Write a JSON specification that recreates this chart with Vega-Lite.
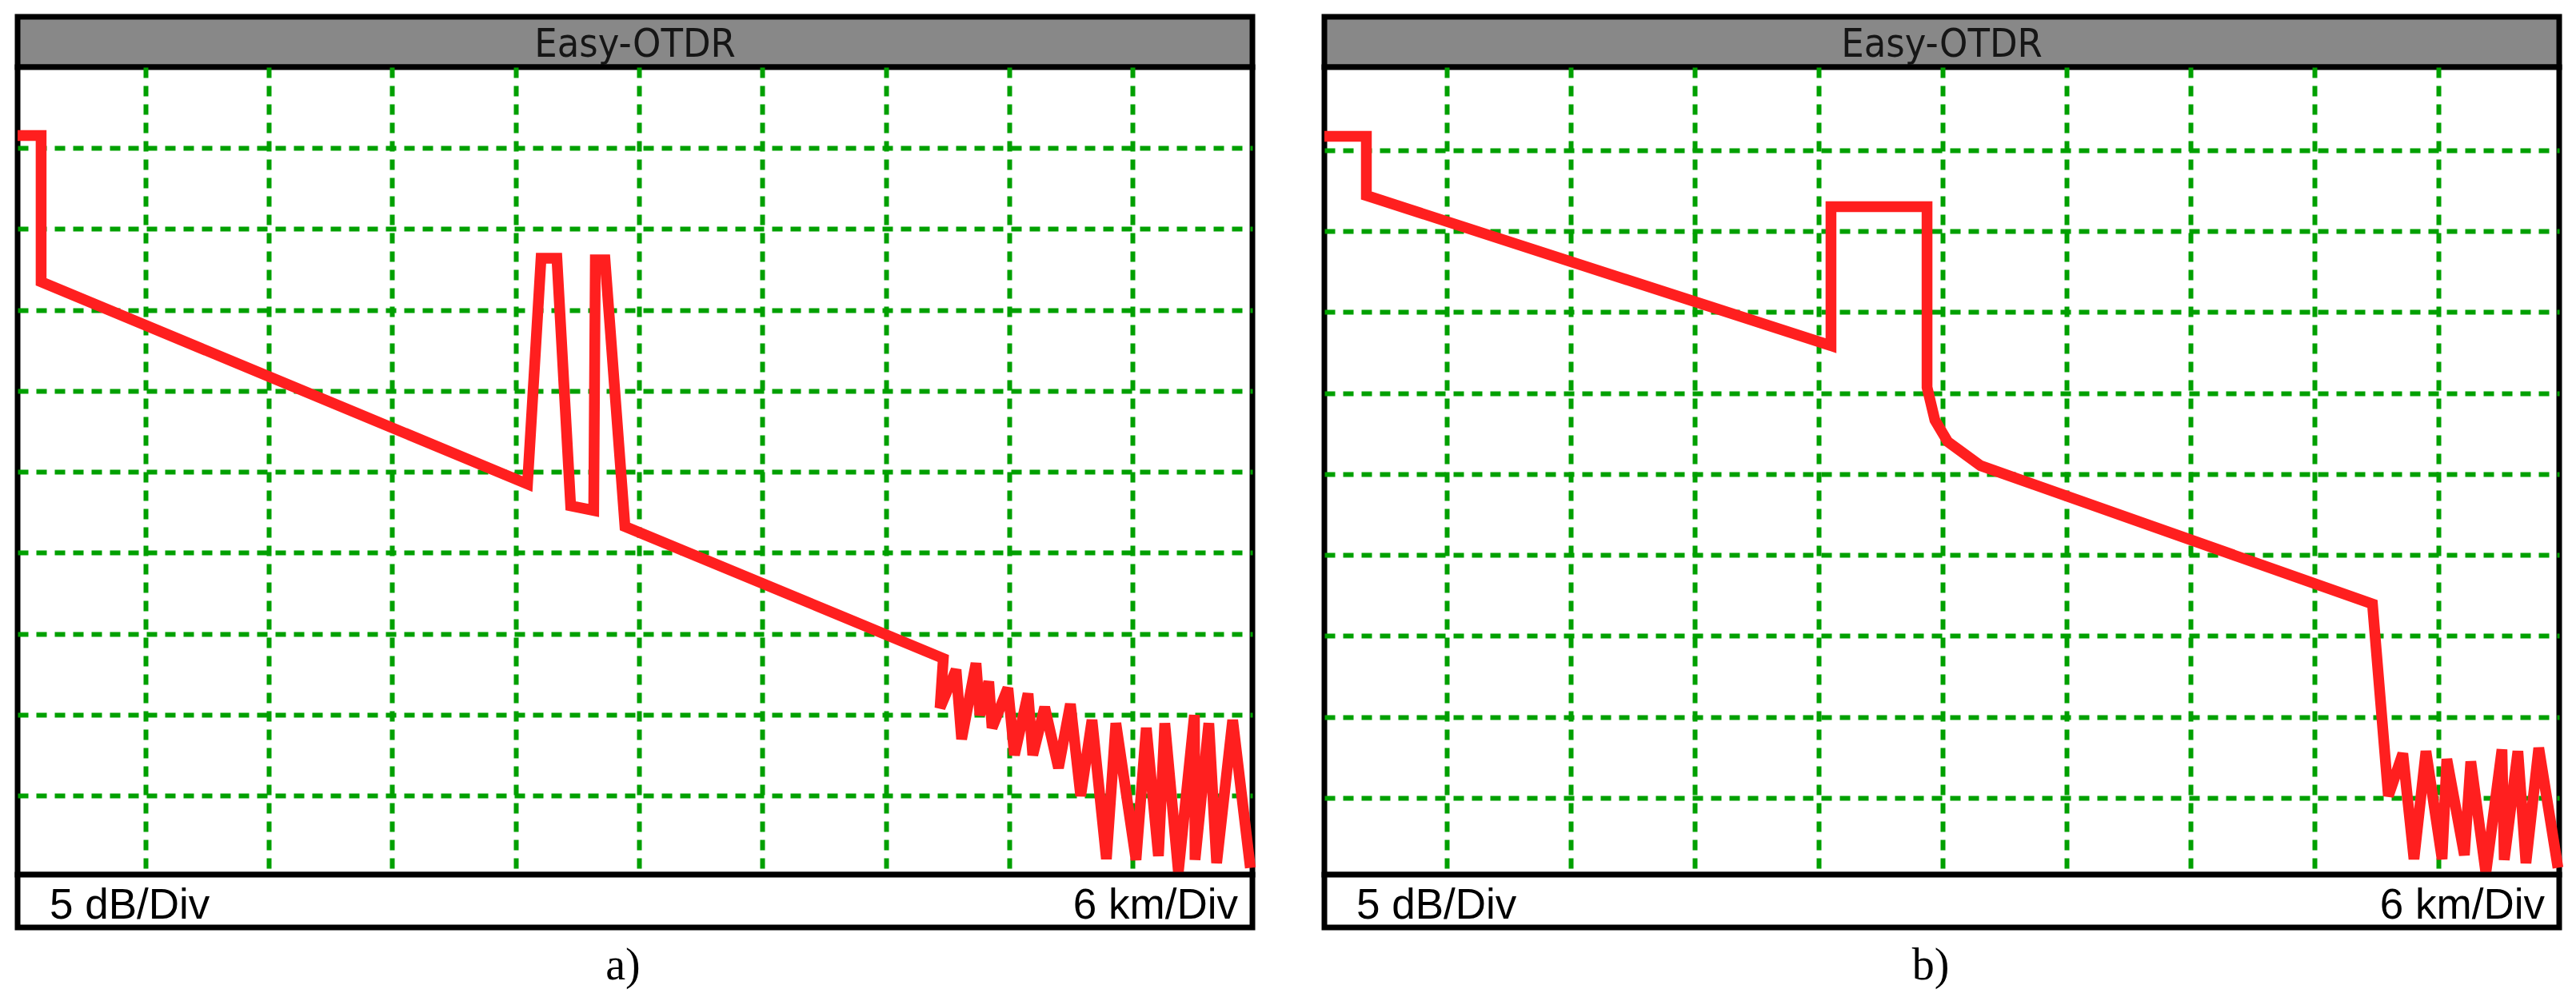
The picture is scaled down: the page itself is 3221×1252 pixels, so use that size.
{
  "$schema": "https://vega.github.io/schema/vega-lite/v6.json",
  "padding": {"left": -9, "top": 17, "right": 0, "bottom": 0},
  "background": "white",
  "config": {
    "view": {"stroke": "black", "strokeWidth": 7},
    "axis": {"minExtent": 0, "maxExtent": 0, "offset": 0}
  },
  "datasets": {
    "traceA": [
      {"i": 0, "km": -0.214, "dB": 45.78},
      {"i": 1, "km": 0.93, "dB": 45.78},
      {"i": 2, "km": 0.93, "dB": 36.74},
      {"i": 3, "km": 24.58, "dB": 24.25},
      {"i": 4, "km": 25.24, "dB": 38.2},
      {"i": 5, "km": 26.01, "dB": 38.2},
      {"i": 6, "km": 26.68, "dB": 22.91},
      {"i": 7, "km": 27.80, "dB": 22.62},
      {"i": 8, "km": 27.88, "dB": 38.1},
      {"i": 9, "km": 28.35, "dB": 38.1},
      {"i": 10, "km": 29.32, "dB": 21.63},
      {"i": 11, "km": 44.80, "dB": 13.48},
      {"i": 12, "km": 44.64, "dB": 10.42},
      {"i": 13, "km": 45.42, "dB": 12.79},
      {"i": 14, "km": 45.69, "dB": 8.49},
      {"i": 15, "km": 46.39, "dB": 13.19},
      {"i": 16, "km": 46.58, "dB": 9.98},
      {"i": 17, "km": 47.01, "dB": 12.05},
      {"i": 18, "km": 47.17, "dB": 9.19},
      {"i": 19, "km": 47.94, "dB": 11.65},
      {"i": 20, "km": 48.26, "dB": 7.51},
      {"i": 21, "km": 48.92, "dB": 11.31},
      {"i": 22, "km": 49.15, "dB": 7.51},
      {"i": 23, "km": 49.73, "dB": 10.47},
      {"i": 24, "km": 50.40, "dB": 6.72},
      {"i": 25, "km": 50.98, "dB": 10.67},
      {"i": 26, "km": 51.48, "dB": 4.99},
      {"i": 27, "km": 52.03, "dB": 9.68},
      {"i": 28, "km": 52.73, "dB": 1.09},
      {"i": 29, "km": 53.19, "dB": 9.48},
      {"i": 30, "km": 54.17, "dB": 1.04},
      {"i": 31, "km": 54.67, "dB": 9.19},
      {"i": 32, "km": 55.26, "dB": 1.28},
      {"i": 33, "km": 55.57, "dB": 9.48},
      {"i": 34, "km": 56.23, "dB": 0.30},
      {"i": 35, "km": 57.01, "dB": 9.98},
      {"i": 36, "km": 57.04, "dB": 1.04},
      {"i": 37, "km": 57.71, "dB": 9.48},
      {"i": 38, "km": 58.09, "dB": 0.84},
      {"i": 39, "km": 58.87, "dB": 9.68},
      {"i": 40, "km": 59.73, "dB": 0.54}
    ],
    "traceB": [
      {"i": 0, "km": 0.058, "dB": 45.87},
      {"i": 1, "km": 2.09, "dB": 45.87},
      {"i": 2, "km": 2.09, "dB": 42.21},
      {"i": 3, "km": 24.58, "dB": 32.93},
      {"i": 4, "km": 24.58, "dB": 41.52},
      {"i": 5, "km": 29.23, "dB": 41.52},
      {"i": 6, "km": 29.23, "dB": 30.36},
      {"i": 7, "km": 29.61, "dB": 28.33},
      {"i": 8, "km": 30.23, "dB": 27.00},
      {"i": 9, "km": 31.82, "dB": 25.52},
      {"i": 10, "km": 50.79, "dB": 16.97},
      {"i": 11, "km": 51.56, "dB": 5.11},
      {"i": 12, "km": 52.26, "dB": 7.73},
      {"i": 13, "km": 52.80, "dB": 1.21},
      {"i": 14, "km": 53.38, "dB": 7.88},
      {"i": 15, "km": 54.16, "dB": 1.21},
      {"i": 16, "km": 54.39, "dB": 7.39},
      {"i": 17, "km": 55.24, "dB": 1.46},
      {"i": 18, "km": 55.55, "dB": 7.24},
      {"i": 19, "km": 56.28, "dB": 0.35},
      {"i": 20, "km": 57.06, "dB": 7.98},
      {"i": 21, "km": 57.17, "dB": 1.16},
      {"i": 22, "km": 57.83, "dB": 7.88},
      {"i": 23, "km": 58.22, "dB": 0.96},
      {"i": 24, "km": 58.84, "dB": 8.08},
      {"i": 25, "km": 59.77, "dB": 0.67}
    ],
    "header": [{"t": "Easy-OTDR"}],
    "footer": [{"t": "5 dB/Div", "p": 0}, {"t": "6 km/Div", "p": 1}]
  },
  "hconcat": [
    {
      "vconcat": [
        {
          "width": 1544, "height": 63,
          "view": {"fill": "#888888", "stroke": "black", "strokeWidth": 7},
          "data": {"name": "header"},
          "mark": {"type": "text", "font": "DejaVu Sans Condensed, Liberation Sans", "fontSize": 50, "baseline": "alphabetic", "dy": 18, "color": "#161616"},
          "encoding": {"text": {"field": "t"}}
        },
        {
          "width": 1544, "height": 1010,
          "view": {"fill": "white", "stroke": "black", "strokeWidth": 7},
          "data": {"name": "traceA"},
          "mark": {"type": "line", "color": "#ff1f1f", "strokeWidth": 13.5},
          "encoding": {
            "x": {"field": "km", "type": "quantitative", "scale": {"domain": [-0.214, 59.83], "nice": false, "zero": false},
                  "axis": {"values": [6, 12, 18, 24, 30, 36, 42, 48, 54], "grid": true, "gridColor": "#00a000", "gridWidth": 6, "gridDash": [13, 10], "gridOpacity": 1, "labels": false, "ticks": false, "domain": false, "title": null}},
            "y": {"field": "dB", "type": "quantitative", "scale": {"domain": [0.123, 50.0], "nice": false, "zero": false},
                  "axis": {"values": [5, 10, 15, 20, 25, 30, 35, 40, 45], "grid": true, "gridColor": "#00a000", "gridWidth": 6, "gridDash": [13, 10], "gridOpacity": 1, "labels": false, "ticks": false, "domain": false, "title": null}},
            "order": {"field": "i"}
          }
        },
        {
          "width": 1544, "height": 66,
          "view": {"fill": "white", "stroke": "black", "strokeWidth": 7},
          "data": {"name": "footer"},
          "layer": [
            {
              "transform": [{"filter": "datum.p == 0"}],
              "mark": {"type": "text", "align": "left", "dx": 40, "dy": 22, "baseline": "alphabetic", "font": "Liberation Sans", "fontSize": 53, "color": "black"},
              "encoding": {"x": {"field": "p", "type": "quantitative", "scale": {"domain": [0, 1]}, "axis": null}, "text": {"field": "t"}}
            },
            {
              "transform": [{"filter": "datum.p == 1"}],
              "mark": {"type": "text", "align": "right", "dx": -18, "dy": 22, "baseline": "alphabetic", "font": "Liberation Sans", "fontSize": 53, "color": "black"},
              "encoding": {"x": {"field": "p", "type": "quantitative", "scale": {"domain": [0, 1]}, "axis": null}, "text": {"field": "t"}}
            }
          ]
        },
        {
          "width": 1544, "height": 85,
          "view": {"fill": null, "stroke": null},
          "data": {"values": [{"t": "a)"}]},
          "mark": {"type": "text", "font": "Liberation Serif", "fontSize": 56, "baseline": "alphabetic", "dx": -15, "dy": 22, "color": "black"},
          "encoding": {"text": {"field": "t"}}
        }
      ],
      "spacing": 0,
      "bounds": "flush",
      "resolve": {"scale": {"x": "independent", "y": "independent"}}
    },
    {
      "vconcat": [
        {
          "width": 1544, "height": 63,
          "view": {"fill": "#888888", "stroke": "black", "strokeWidth": 7},
          "data": {"name": "header"},
          "mark": {"type": "text", "font": "DejaVu Sans Condensed, Liberation Sans", "fontSize": 50, "baseline": "alphabetic", "dy": 18, "color": "#161616"},
          "encoding": {"text": {"field": "t"}}
        },
        {
          "width": 1544, "height": 1010,
          "view": {"fill": "white", "stroke": "black", "strokeWidth": 7},
          "data": {"name": "traceB"},
          "mark": {"type": "line", "color": "#ff1f1f", "strokeWidth": 13.5},
          "encoding": {
            "x": {"field": "km", "type": "quantitative", "scale": {"domain": [0.058, 59.83], "nice": false, "zero": false},
                  "axis": {"values": [6, 12, 18, 24, 30, 36, 42, 48, 54], "grid": true, "gridColor": "#00a000", "gridWidth": 6, "gridDash": [13, 10], "gridOpacity": 1, "labels": false, "ticks": false, "domain": false, "title": null}},
            "y": {"field": "dB", "type": "quantitative", "scale": {"domain": [0.247, 50.14], "nice": false, "zero": false},
                  "axis": {"values": [5, 10, 15, 20, 25, 30, 35, 40, 45], "grid": true, "gridColor": "#00a000", "gridWidth": 6, "gridDash": [13, 10], "gridOpacity": 1, "labels": false, "ticks": false, "domain": false, "title": null}},
            "order": {"field": "i"}
          }
        },
        {
          "width": 1544, "height": 66,
          "view": {"fill": "white", "stroke": "black", "strokeWidth": 7},
          "data": {"name": "footer"},
          "layer": [
            {
              "transform": [{"filter": "datum.p == 0"}],
              "mark": {"type": "text", "align": "left", "dx": 40, "dy": 22, "baseline": "alphabetic", "font": "Liberation Sans", "fontSize": 53, "color": "black"},
              "encoding": {"x": {"field": "p", "type": "quantitative", "scale": {"domain": [0, 1]}, "axis": null}, "text": {"field": "t"}}
            },
            {
              "transform": [{"filter": "datum.p == 1"}],
              "mark": {"type": "text", "align": "right", "dx": -18, "dy": 22, "baseline": "alphabetic", "font": "Liberation Sans", "fontSize": 53, "color": "black"},
              "encoding": {"x": {"field": "p", "type": "quantitative", "scale": {"domain": [0, 1]}, "axis": null}, "text": {"field": "t"}}
            }
          ]
        },
        {
          "width": 1544, "height": 85,
          "view": {"fill": null, "stroke": null},
          "data": {"values": [{"t": "b)"}]},
          "mark": {"type": "text", "font": "Liberation Serif", "fontSize": 56, "baseline": "alphabetic", "dx": -14, "dy": 22, "color": "black"},
          "encoding": {"text": {"field": "t"}}
        }
      ],
      "spacing": 0,
      "bounds": "flush",
      "resolve": {"scale": {"x": "independent", "y": "independent"}}
    }
  ],
  "spacing": 31,
  "resolve": {"scale": {"x": "independent", "y": "independent"}}
}
